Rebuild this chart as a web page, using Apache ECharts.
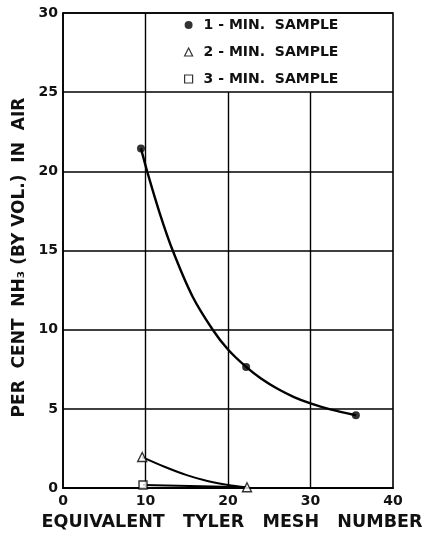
<!DOCTYPE html>
<html>
<head>
<meta charset="utf-8">
<script src="https://cdn.jsdelivr.net/npm/echarts@6/dist/echarts.min.js"></script>
<style>html,body{margin:0;padding:0;background:#fff}#c{width:428px;height:536px}</style>
</head>
<body>
<div id="c"></div>
<script>
// Data
var xTicks = [0, 10, 20, 30, 40];
var yTicks = [0, 5, 10, 15, 20, 25, 30];
var seriesNames = ['1 - MIN.  SAMPLE', '2 - MIN.  SAMPLE', '3 - MIN.  SAMPLE'];

// measured points
var oneMinPoints = [[9.45, 21.45], [22.2, 7.65], [35.5, 4.6]];
var twoMinPoints = [[9.6, 1.96], [22.3, 0.05]];
var threeMinPoints = [[9.7, 0.2]];

// points
var oneMinCurve = [[9.45, 21.45], [10.2, 20], [11.7, 17.4], [13.3, 15], [15.7, 12.1], [18.15, 10], [20, 8.75], [22.2, 7.65], [24, 6.92], [26, 6.27], [28, 5.75], [30, 5.35], [32.4, 4.97], [35.5, 4.6]];
var twoMinCurve = [[9.6, 1.96], [12.3, 1.35], [15, 0.82], [17.5, 0.45], [20, 0.2], [22.3, 0.05]];
var threeMinCurve = [[9.7, 0.2], [19.6, 0.08], [22.3, 0.05]];

// vertical grid lines: [x, yTop]
var vGrid = [[10, 30], [20, 25], [30, 25]];

var font = 'DejaVu Sans';
var chart = echarts.init(document.getElementById('c'), null, {renderer: 'canvas'});

var lineW = 2.4;
var option = {
  animation: false,
  backgroundColor: '#fff',
  grid: {left: 63, right: 35, top: 13, bottom: 42, show: true, borderColor: '#000', borderWidth: 1.6, containLabel: false},
  legend: {
    orient: 'vertical', left: 179, top: 13, itemGap: 13, itemWidth: 8, itemHeight: 8,
    textStyle: {fontFamily: font, fontWeight: 'bold', fontSize: 14, color: '#111', padding: [0, 0, 0, 6]},
    data: [
      {name: seriesNames[0], icon: 'circle', itemStyle: {color: '#000', borderWidth: 0}},
      {name: seriesNames[1], icon: 'triangle', itemStyle: {color: '#fff', borderColor: '#000', borderWidth: 1.2}},
      {name: seriesNames[2], icon: 'rect', itemStyle: {color: '#fff', borderColor: '#000', borderWidth: 1.2}}
    ]
  },
  xAxis: {
    type: 'value', min: 0, max: 40, interval: 10,
    name: 'EQUIVALENT   TYLER   MESH   NUMBER', nameLocation: 'middle', nameGap: 21,
    nameTextStyle: {fontFamily: font, fontWeight: 'bold', fontSize: 17.5, color: '#111', verticalAlign: 'top', padding: [0, 0, 0, 8]},
    axisLine: {show: true, lineStyle: {color: '#000', width: 1.6}},
    axisTick: {show: false},
    axisLabel: {fontFamily: font, fontWeight: 'bold', fontSize: 14, color: '#111', margin: 6,
      formatter: function (v) { return xTicks.indexOf(v) >= 0 ? String(v) : ''; }},
    splitLine: {show: false}
  },
  yAxis: {
    type: 'value', min: 0, max: 30, interval: 5,
    name: 'PER  CENT  NH\u2083 (BY VOL.)  IN  AIR', nameLocation: 'middle', nameGap: 34,
    nameTextStyle: {fontFamily: font, fontWeight: 'bold', fontSize: 17, color: '#111', padding: [0, 14, 0, 0]},
    axisLine: {show: true, lineStyle: {color: '#000', width: 1.6}},
    axisTick: {show: false},
    axisLabel: {fontFamily: font, fontWeight: 'bold', fontSize: 14, color: '#111', margin: 5,
      formatter: function (v) { return yTicks.indexOf(v) >= 0 ? String(v) : ''; }},
    splitLine: {show: true, lineStyle: {color: '#000', width: 1.6}}
  },
  series: [
    {
      type: 'line', name: 'grid', data: [], silent: true,
      markLine: {
        silent: true, symbol: ['none', 'none'], label: {show: false},
        lineStyle: {color: '#000', width: 1.4, type: 'solid'},
        data: vGrid.map(function (g) { return [{coord: [g[0], 0]}, {coord: [g[0], g[1]]}]; })
      }
    },
    {type: 'line', data: oneMinCurve, smooth: 0.3, showSymbol: false, silent: true, clip: false, lineStyle: {color: '#000', width: lineW}, z: 3},
    {type: 'line', data: twoMinCurve, smooth: 0.3, showSymbol: false, silent: true, clip: false, lineStyle: {color: '#000', width: lineW - 0.4}, z: 3},
    {type: 'line', data: threeMinCurve, smooth: false, showSymbol: false, silent: true, clip: false, lineStyle: {color: '#000', width: lineW - 0.4}, z: 3},
    {name: seriesNames[0], type: 'scatter', data: oneMinPoints, symbol: 'circle', symbolSize: 8, clip: false, itemStyle: {color: '#000'}, z: 5},
    {name: seriesNames[1], type: 'scatter', data: twoMinPoints, symbol: 'triangle', symbolSize: 9, clip: false, itemStyle: {color: '#fff', borderColor: '#000', borderWidth: 1.4}, z: 5},
    {name: seriesNames[2], type: 'scatter', data: threeMinPoints, symbol: 'rect', symbolSize: 8, clip: false, itemStyle: {color: '#fff', borderColor: '#000', borderWidth: 1.4}, z: 5}
  ]
};
chart.setOption(option);
</script>
</body>
</html>
